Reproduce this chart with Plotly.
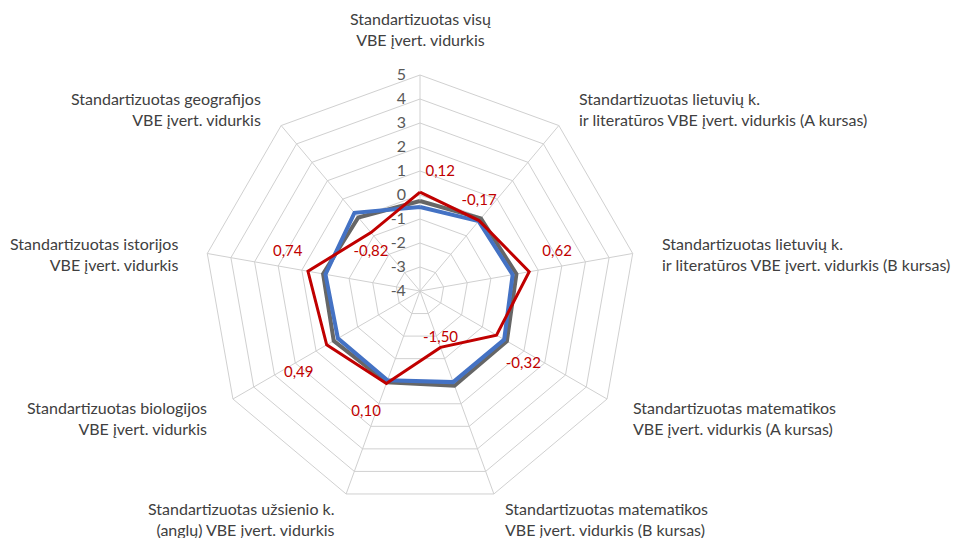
import math
import plotly.graph_objects as go

categories = [
    "Standartizuotas visų<br>VBE įvert. vidurkis",
    "Standartizuotas lietuvių k.<br>ir literatūros VBE įvert. vidurkis (A kursas)",
    "Standartizuotas lietuvių k.<br>ir literatūros VBE įvert. vidurkis (B kursas)",
    "Standartizuotas matematikos<br>VBE įvert. vidurkis (A kursas)",
    "Standartizuotas matematikos<br>VBE įvert. vidurkis (B kursas)",
    "Standartizuotas užsienio k.<br>(anglų) VBE įvert. vidurkis",
    "Standartizuotas biologijos<br>VBE įvert. vidurkis",
    "Standartizuotas istorijos<br>VBE įvert. vidurkis",
    "Standartizuotas geografijos<br>VBE įvert. vidurkis",
]
red_values = [0.12, -0.17, 0.62, -0.32, -1.50, 0.10, 0.49, 0.74, -0.82]
gray_values = [-0.25, -0.05, 0.08, 0.18, 0.2, 0.05, 0.15, 0.1, 0.0]
blue_values = [-0.5, -0.2, -0.08, 0.05, 0.04, -0.04, -0.05, 0.0, 0.25]
radial_ticks = [-4, -3, -2, -1, 0, 1, 2, 3, 4, 5]

W, H = 961, 538
CX, CY, R = 420, 291, 216
FONT = "Lato"
NB = "\u00a0"
R_RANGE = [-4, 5]

def closed(v):
    return list(v) + [v[0]]

n = len(categories)
keys = [f"c{i}" for i in range(n)]
angles = [360 * i / n for i in range(n)]
fmt = [f"{v:.2f}".replace(".", ",") for v in red_values]

# label placement (position + padding lines/spaces) for the red data labels
red_text = [
    NB + fmt[0] + "<br>" + NB + "<br>" + NB,
    fmt[1] + "<br>" + NB + "<br>" + NB,
    NB * 3 + fmt[2] + "<br>" + NB + "<br>" + NB,
    NB + "<br>" + NB * 2 + fmt[3],
    fmt[4],
    NB + "<br>" + fmt[5] + NB,
    NB + "<br>" + fmt[6] + NB * 3,
    fmt[7] + NB + "<br>" + NB + "<br>" + NB,
    NB + "<br>" + NB + "<br>" + fmt[8],
]
red_text_pos = ["middle right", "middle center", "middle right", "bottom right", "top center",
                "bottom left", "bottom left", "middle left", "middle center"]

fig = go.Figure()
fig.add_trace(go.Scatterpolar(r=closed(gray_values), theta=closed(keys), mode="lines",
                              line=dict(color="#666666", width=4), showlegend=False, hoverinfo="skip"))
fig.add_trace(go.Scatterpolar(r=closed(blue_values), theta=closed(keys), mode="lines",
                              line=dict(color="#4472C4", width=4), showlegend=False, hoverinfo="skip"))
fig.add_trace(go.Scatterpolar(r=closed(red_values), theta=closed(keys), mode="lines",
                              line=dict(color="#C00000", width=3), showlegend=False, hoverinfo="skip"))
fig.add_trace(go.Scatterpolar(r=red_values, theta=angles, mode="markers+text", subplot="polar2",
                              marker=dict(size=1, color="rgba(0,0,0,0)"),
                              text=red_text, textposition=red_text_pos,
                              textfont=dict(color="#C00000", size=15, family=FONT),
                              showlegend=False, cliponaxis=False))

annotations = []
for i, lab in enumerate(categories):
    ang = math.radians(angles[i])
    s, c = math.sin(ang), math.cos(ang)
    rl = R + 28
    px = CX + rl * s
    py = CY - rl * c + 5
    if abs(s) < 0.05:
        xa, align = "center", "center"
    elif s > 0:
        xa, align = "left", "left"
    else:
        xa, align = "right", "right"
    if i == 0:
        ya = "bottom"
        py = CY - (R + 24)
    elif c < -0.9:
        ya = "top"
        py = CY - (R + 3) * c
    else:
        ya = "middle"
    annotations.append(dict(x=px / W, y=1 - py / H, xref="paper", yref="paper", text=lab,
                            showarrow=False, xanchor=xa, yanchor=ya, align=align,
                            font=dict(size=16, color="#404040", family=FONT)))

domain = dict(x=[(CX - R) / W, (CX + R) / W], y=[1 - (CY + R) / H, 1 - (CY - R) / H])
fig.update_layout(
    width=W, height=H, margin=dict(l=0, r=0, t=0, b=0),
    paper_bgcolor="white", plot_bgcolor="white",
    font=dict(family=FONT, color="#595959"),
    annotations=annotations,
    polar=dict(
        domain=domain,
        gridshape="linear",
        bgcolor="white",
        radialaxis=dict(range=R_RANGE, tickvals=radial_ticks, ticktext=[str(t) for t in radial_ticks],
                        angle=90, tickangle=90, side="counterclockwise", showline=False,
                        gridcolor="#D0D0D0", gridwidth=1, ticks="outside", ticklen=8,
                        tickcolor="rgba(0,0,0,0)",
                        tickfont=dict(size=16, color="#595959", family=FONT)),
        angularaxis=dict(categoryarray=keys, categoryorder="array", rotation=90, direction="clockwise",
                         showticklabels=False, ticks="", gridcolor="#D0D0D0", linecolor="#D0D0D0",
                         linewidth=1),
    ),
    polar2=dict(
        domain=domain,
        bgcolor="rgba(0,0,0,0)",
        radialaxis=dict(range=R_RANGE, showgrid=False, showline=False, showticklabels=False, ticks=""),
        angularaxis=dict(rotation=90, direction="clockwise", showgrid=False, showline=False,
                         showticklabels=False, ticks=""),
    ),
)
fig.write_html("out.html", config={"displayModeBar": False},
               post_script="document.body.style.margin='0';document.body.style.overflow='hidden';")
